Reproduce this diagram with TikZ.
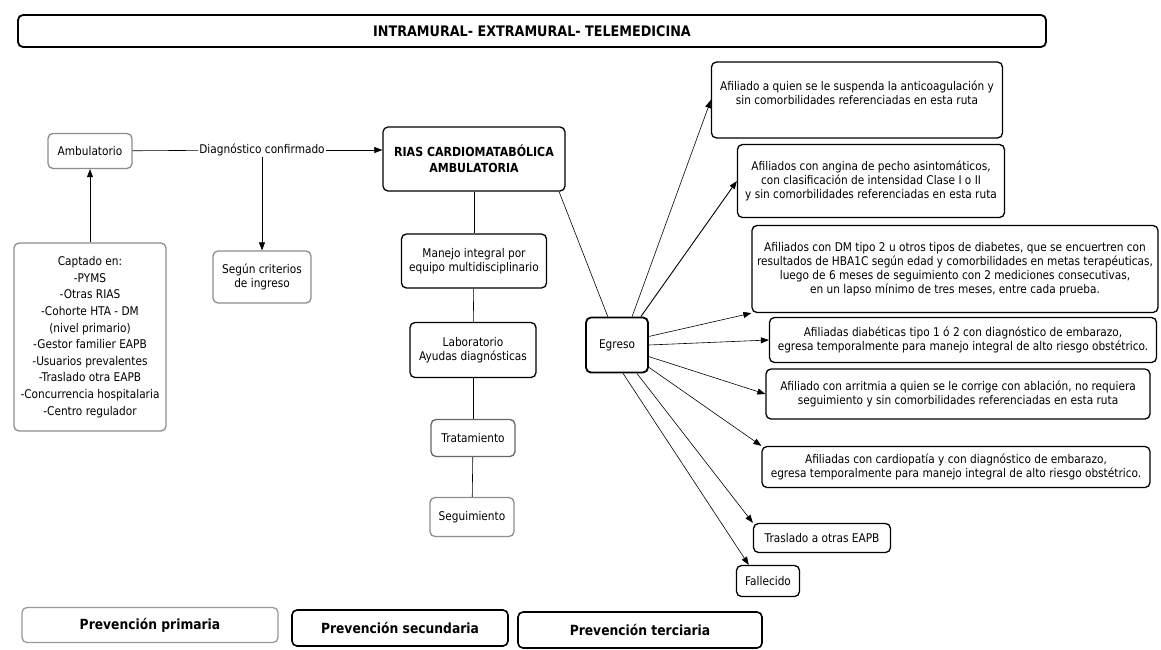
\documentclass[tikz,border=0pt]{standalone}
\usepackage{fontspec}
\setmainfont{DejaVu Sans}[FakeStretch=0.88]
\usetikzlibrary{arrows.meta}

\begin{document}
\begin{tikzpicture}[x=1pt,y=-1pt,font=\fontsize{12}{14}\selectfont]
	\tikzstyle{caja}=[draw=black,line width=1.3pt,rounded corners=5pt,align=center,inner sep=2pt,fill=white]
	\tikzstyle{cajagris}=[caja,draw=black!45]
	\tikzstyle{prev}=[caja,font=\fontsize{14}{16}\selectfont\bfseries]
	\tikzstyle{flecha}=[-{Triangle[length=8pt,width=6pt]},line width=0.6pt]
	\tikzstyle{linea}=[line width=0.6pt]
	\useasboundingbox (0,0) rectangle (1161,649);
	\draw 
	node[caja,line width=1.8pt,minimum width=1028,minimum height=32,font=\fontsize{14.5}{16}\selectfont\bfseries](titulo)at(532,31){INTRAMURAL- EXTRAMURAL- TELEMEDICINA}
	node[cajagris,minimum width=84,minimum height=35](ambu)at(90,151){Ambulatorio}
	node[inner sep=1pt](diag)at(262,150){Diagnóstico confirmado}
	node[cajagris,minimum width=152,minimum height=188,font=\fontsize{12}{16.6}\selectfont](captado)at(90,337){Captado en:\\-PYMS\\-Otras RIAS\\-Cohorte HTA - DM\\(nivel primario)\\-Gestor familier EAPB\\-Usuarios prevalentes\\-Traslado otra EAPB\\-Concurrencia hospitalaria\\-Centro regulador}
	node[cajagris,minimum width=98,minimum height=52](segun)at(262,277){Según criterios\\de ingreso}
	node[caja,minimum width=182,minimum height=64,font=\fontsize{12.5}{16}\selectfont\bfseries](rias)at(474,159){RIAS CARDIOMATABÓLICA\\AMBULATORIA}
	node[caja,minimum width=145,minimum height=54](manejo)at(474,261){Manejo integral por\\equipo multidisciplinario}
	node[caja,minimum width=126,minimum height=55](lab)at(473,350){Laboratorio\\Ayudas diagnósticas}
	node[cajagris,draw=black!60,minimum width=84,minimum height=37](trat)at(473,438){Tratamiento}
	node[cajagris,minimum width=84,minimum height=39](segui)at(472,517){Seguimiento}
	node[caja,line width=1.8pt,minimum width=62,minimum height=55](egreso)at(617,345){Egreso};
	
	\draw
	node[caja,minimum width=291,minimum height=76](susp)at(857,100){Afiliado a quien se le suspenda la anticoagulación y\\sin comorbilidades referenciadas en esta ruta\\\mbox{}}
	node[caja,minimum width=267,minimum height=73](angina)at(871,181){Afiliados con angina de pecho asintomáticos,\\con clasificación de intensidad Clase I o II\\y sin comorbilidades referenciadas en esta ruta}
	node[caja,minimum width=406,minimum height=87](dm)at(955,269){Afiliados con DM tipo 2 u otros tipos de diabetes, que se encuertren con\\resultados de HBA1C según edad y comorbilidades en metas terapéuticas,\\luego de 6 meses de seguimiento con 2 mediciones consecutivas,\\en un lapso mínimo de tres meses, entre cada prueba.}
	node[caja,minimum width=387,minimum height=45](diab)at(963,340){Afiliadas diabéticas tipo 1 ó 2 con diagnóstico de embarazo,\\egresa temporalmente para manejo integral de alto riesgo obstétrico.}
	node[caja,minimum width=384,minimum height=50](arrit)at(958,394){Afiliado con arritmia a quien se le corrige con ablación, no requiera\\seguimiento y sin comorbilidades referenciadas en esta ruta}
	node[caja,minimum width=388,minimum height=41](cardio)at(956,467){Afiliadas con cardiopatía y con diagnóstico de embarazo,\\egresa temporalmente para manejo integral de alto riesgo obstétrico.}
	node[caja,minimum width=137,minimum height=29](trasl)at(822,538){Traslado a otras EAPB}
	node[caja,minimum width=63,minimum height=31](fall)at(768,581){Fallecido};
	
	\draw
	node[prev,draw=black!40,minimum width=256,minimum height=35](prim)at(150,625){Prevención primaria}
	node[prev,line width=1.6pt,minimum width=216,minimum height=36](secu)at(400,628){Prevención secundaria}
	node[prev,line width=1.6pt,minimum width=244,minimum height=36](terc)at(640,630){Prevención terciaria};
	
	% izquierda
	\draw[flecha](captado)--(ambu);
	\draw[linea](ambu)--(diag);
	\draw[flecha](diag.east)--(diag.east -| rias.west);
	\draw[flecha](diag)--(segun);
	\draw[linea](rias)--(manejo);
	\draw[linea](manejo)--(lab);
	\draw[linea](lab)--(trat);
	\draw[linea](trat)--(segui);
	\draw[linea](rias.-21)--(egreso.108);
	% egreso
	\draw[flecha](egreso.62)--(susp.west);
	\draw[flecha,line width=0.9pt](egreso.50)--(angina.west);
	\draw[flecha](egreso.15)--(dm.south west);
	\draw[flecha](egreso.east)--(diab.west);
	\draw[flecha](egreso.-20)--(arrit.west);
	\draw[flecha](egreso.-35)--(cardio.north west);
	\draw[flecha](egreso.-55)--(trasl.north west);
	\draw[flecha](egreso.-78)--(fall.140);
\end{tikzpicture}
\end{document}
